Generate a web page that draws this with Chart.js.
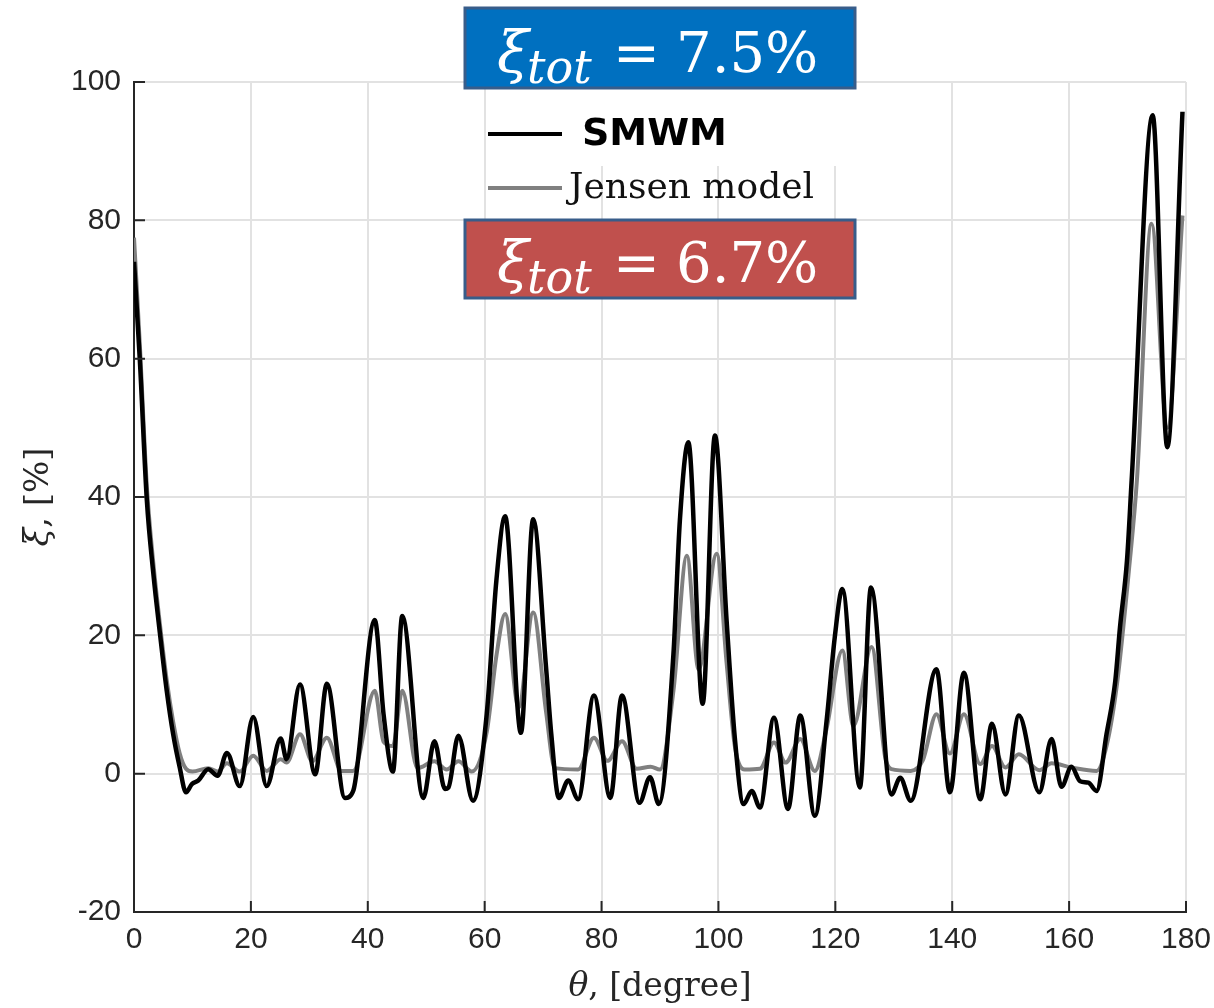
<!DOCTYPE html>
<html>
<head>
<meta charset="utf-8">
<title>SMWM vs Jensen model</title>
<script src="https://cdn.jsdelivr.net/npm/chart.js@4.4.1/dist/chart.umd.min.js"></script>
<style>
  html, body { margin: 0; padding: 0; background: #fff; }
  canvas { display: block; }
</style>
</head>
<body>
<canvas id="myChart" width="1214" height="1008"></canvas>
<script>
	// values (theta in degree, xi in %)
	var thetaSmwm = [0, 1.0, 2.2, 3.3, 4.45, 5.6, 6.7, 7.8, 8.9, 9.9, 11.0, 12.7, 14.3, 15.9, 18.1, 20.4, 22.7, 25.1, 26.1, 28.4,
		31.0, 33.0, 36.1, 37.5, 41.2, 42.7, 44.3, 45.9, 49.5, 51.4, 53.2, 53.8, 55.5, 58.0, 60.35, 62.0, 63.5, 66.2, 68.3, 70.5,
		71.4, 72.7, 74.3, 76.0, 78.7, 81.5, 83.5, 86.5, 88.3, 89.8, 92.3, 93.4, 94.85, 97.3, 99.4, 101.4, 102.8, 104.3, 105.7, 107.1,
		109.5, 111.9, 114.0, 116.5, 118.5, 119.9, 121.2, 124.2, 126.1, 129.6, 131.1, 132.9, 137.3, 139.6, 142.0, 144.8, 146.8, 149.1, 151.4, 154.9,
		157.0, 158.7, 160.4, 161.9, 163.3, 164.7, 166.4, 167.9, 168.7, 169.9, 170.7, 174.3, 176.8, 179.4];
	var xiSmwm = [74, 59.8, 39.5, 29, 20.2, 12, 5.7, 1, -2.7, -1.5, -1.0, 0.65, -0.3, 3.0, -1.8, 8.2, -1.8, 5.1, 2.1, 12.9,
		-0.1, 13.0, -3.5, -2.5, 22.2, 8.6, 0.3, 22.8, -3.5, 4.7, -2.2, -2.0, 5.5, -3.9, 8.6, 27.9, 37.2, 5.9, 36.8, 15.4,
		5.7, -3.5, -1.0, -3.7, 11.3, -3.5, 11.3, -4.2, -0.5, -4.4, 17.3, 36.6, 47.9, 10.1, 48.9, 22.1, 5.2, -4.4, -2.5, -4.9,
		8.1, -5.1, 8.4, -6.1, 7.6, 19.7, 26.7, -2.0, 26.9, -3.0, -0.6, -3.9, 15.1, -2.7, 14.6, -3.7, 7.2, -3.0, 8.4, -2.7,
		5.0, -1.9, 1.0, -1.1, -1.3, -2.5, 5.7, 13.4, 21.1, 30.8, 42.4, 95.2, 47.2, 95.7];

	var thetaJensen = [0, 1.0, 2.2, 3.3, 4.45, 5.6, 6.7, 7.8, 8.9, 10.0, 12.7, 14.3, 15.9, 18.1, 20.4, 22.7, 25.1, 26.1, 28.4, 30.5,
		33.0, 35.5, 37.5, 41.2, 42.7, 44.3, 45.9, 48.5, 51.4, 53.5, 55.5, 57.8, 60.35, 62.0, 63.5, 65.8, 68.3, 70.5, 72.0, 76.0,
		78.7, 81.0, 83.5, 86.0, 88.4, 90.0, 92.3, 94.6, 96.6, 99.7, 101.4, 102.8, 104.5, 107.1, 109.5, 111.5, 114.0, 116.5, 118.5, 121.2,
		123.1, 126.2, 128.5, 129.6, 132.9, 135.0, 137.3, 139.6, 142.0, 144.8, 146.8, 149.1, 151.4, 154.9, 157.0, 160.4, 164.7, 166.4, 168.2, 170.3,
		171.6, 174.1, 176.8, 179.4];
	var xiJensen = [77.5, 62, 41.5, 30.5, 21.5, 13.5, 7.5, 3, 0.7, 0.3, 0.8, 0.3, 1.5, 0.3, 2.6, 0.4, 2.1, 1.6, 5.7, 1.8,
		5.2, 0.4, 0.4, 12.0, 4.6, 4.0, 12.0, 0.8, 1.8, 0.6, 1.8, 0.3, 6, 17, 23.1, 9.6, 23.3, 9, 0.8, 0.6,
		5.2, 1.85, 4.7, 0.7, 1.0, 0.6, 12, 31.5, 15.1, 31.8, 16, 4, 0.6, 0.7, 4.5, 1.6, 5.0, 0.4, 6.5, 17.8,
		6.9, 18.3, 2.5, 0.65, 0.4, 2, 8.6, 2.9, 8.6, 1.4, 4.0, 0.9, 2.8, 0.5, 1.5, 0.9, 0.4, 4, 13, 30,
		42.4, 79.5, 50, 80.7];

	var xTicks = [0, 20, 40, 60, 80, 100, 120, 140, 160, 180];
	var yTicks = [-20, 0, 20, 40, 60, 80, 100];

	var labelSmwm = 'SMWM';
	var labelJensen = 'Jensen model';
	var totSmwm = '7.5%';
	var totJensen = '6.7%';

	function toPoints(xs, ys) {
		var pts = [];
		for (var i = 0; i < xs.length; i++) {
			pts.push({x: xs[i], y: ys[i]});
		}
		return pts;
	}

	var ink = '#262626';

	// text box "xi_tot = value" drawn over the plot
	function drawTotBox(ctx, top, bottom, fill, value) {
		ctx.fillStyle = fill;
		ctx.fillRect(465, top, 390, bottom - top);
		ctx.strokeStyle = '#385D8A';
		ctx.lineWidth = 3;
		ctx.strokeRect(465, top, 390, bottom - top);
		var base = bottom - 16;
		ctx.fillStyle = '#ffffff';
		ctx.textBaseline = 'alphabetic';
		ctx.textAlign = 'left';
		ctx.font = 'italic 58px "DejaVu Serif"';
		ctx.fillText('\u03BE', 497, base);
		ctx.font = 'italic 46px "DejaVu Serif"';
		ctx.fillText('tot', 527, base + 11);
		ctx.font = '56px "DejaVu Serif"';
		ctx.fillText('=', 613, base);
		ctx.fillText(value, 676, base);
	}

	var decorations = {
		id: 'decorations',
		afterDraw: function(chart) {
			var ctx = chart.ctx;
			var area = chart.chartArea;
			var sx = chart.scales.x;
			var sy = chart.scales.y;
			ctx.save();

			// inward ticks, matlab style
			ctx.strokeStyle = ink;
			ctx.lineWidth = 2;
			ctx.beginPath();
			xTicks.forEach(function(v) {
				var px = sx.getPixelForValue(v);
				ctx.moveTo(px, area.bottom);
				ctx.lineTo(px, area.bottom - 11);
			});
			yTicks.forEach(function(v) {
				var py = sy.getPixelForValue(v);
				ctx.moveTo(area.left, py);
				ctx.lineTo(area.left + 11, py);
			});
			ctx.stroke();

			// legend
			ctx.fillStyle = '#ffffff';
			ctx.fillRect(487, 89, 363, 77);
			ctx.lineWidth = 4;
			ctx.strokeStyle = '#000000';
			ctx.beginPath();
			ctx.moveTo(488, 134);
			ctx.lineTo(562, 134);
			ctx.stroke();
			ctx.strokeStyle = '#808080';
			ctx.beginPath();
			ctx.moveTo(488, 188);
			ctx.lineTo(562, 188);
			ctx.stroke();
			ctx.fillStyle = '#000000';
			ctx.textAlign = 'left';
			ctx.textBaseline = 'alphabetic';
			ctx.font = 'bold 38px "DejaVu Sans"';
			ctx.fillText(labelSmwm, 582, 145);
			ctx.fillStyle = '#111111';
			ctx.font = '36px "DejaVu Serif"';
			ctx.fillText(labelJensen, 569, 198);

			drawTotBox(ctx, 8, 88, '#0070C0', totSmwm);
			drawTotBox(ctx, 220, 298, '#C0504D', totJensen);

			// axis titles
			ctx.fillStyle = ink;
			ctx.font = 'italic 33px "DejaVu Serif"';
			var w1 = ctx.measureText('\u03B8').width;
			ctx.font = '33px "DejaVu Serif"';
			var w2 = ctx.measureText(', [degree]').width;
			var x0 = (area.left + area.right) / 2 - (w1 + w2) / 2;
			ctx.font = 'italic 33px "DejaVu Serif"';
			ctx.fillText('\u03B8', x0, 996);
			ctx.font = '33px "DejaVu Serif"';
			ctx.fillText(', [degree]', x0 + w1, 996);

			ctx.translate(48, (area.top + area.bottom) / 2);
			ctx.rotate(-Math.PI / 2);
			ctx.font = 'italic 34px "DejaVu Serif"';
			var w3 = ctx.measureText('\u03BE').width;
			ctx.font = '34px "DejaVu Serif"';
			var w4 = ctx.measureText(', [%]').width;
			var y0 = -(w3 + w4) / 2;
			ctx.font = 'italic 34px "DejaVu Serif"';
			ctx.fillText('\u03BE', y0, 0);
			ctx.font = '34px "DejaVu Serif"';
			ctx.fillText(', [%]', y0 + w3, 0);

			ctx.restore();
		}
	};

	var tickFont = {family: '"Liberation Sans", Arial, sans-serif', size: 30};

	var config = {
		type: 'line',
		data: {
			datasets: [{
				label: labelSmwm,
				data: toPoints(thetaSmwm, xiSmwm),
				borderColor: '#000000',
				borderWidth: 4.5,
				pointRadius: 0,
				cubicInterpolationMode: 'monotone',
				fill: false
			},
			{
				label: labelJensen,
				data: toPoints(thetaJensen, xiJensen),
				borderColor: '#808080',
				borderWidth: 4,
				pointRadius: 0,
				cubicInterpolationMode: 'monotone',
				fill: false
			}]
		},
		options: {
			responsive: false,
			animation: false,
			devicePixelRatio: 1,
			layout: {padding: {left: 0, right: 28, top: 82, bottom: 0}},
			plugins: {
				legend: {display: false},
				tooltip: {enabled: false}
			},
			scales: {
				x: {
					type: 'linear',
					min: 0,
					max: 180,
					afterBuildTicks: function(s) { s.ticks = xTicks.map(function(v) { return {value: v}; }); },
					afterFit: function(s) { s.height = 96; s.paddingLeft = 0; s.paddingRight = 0; },
					ticks: {color: ink, font: tickFont, padding: 10, maxRotation: 0},
					grid: {color: '#e2e2e2', lineWidth: 2, drawTicks: false},
					border: {color: ink, width: 2}
				},
				y: {
					min: -20,
					max: 100,
					afterBuildTicks: function(s) { s.ticks = yTicks.map(function(v) { return {value: v}; }); },
					afterFit: function(s) { s.width = 134; s.paddingTop = 0; s.paddingBottom = 0; },
					ticks: {color: ink, font: tickFont, padding: 13},
					grid: {color: '#e2e2e2', lineWidth: 2, drawTicks: false},
					border: {color: ink, width: 2}
				}
			}
		},
		plugins: [decorations]
	};

	var myChart = new Chart(document.getElementById('myChart'), config);
</script>
</body>
</html>
